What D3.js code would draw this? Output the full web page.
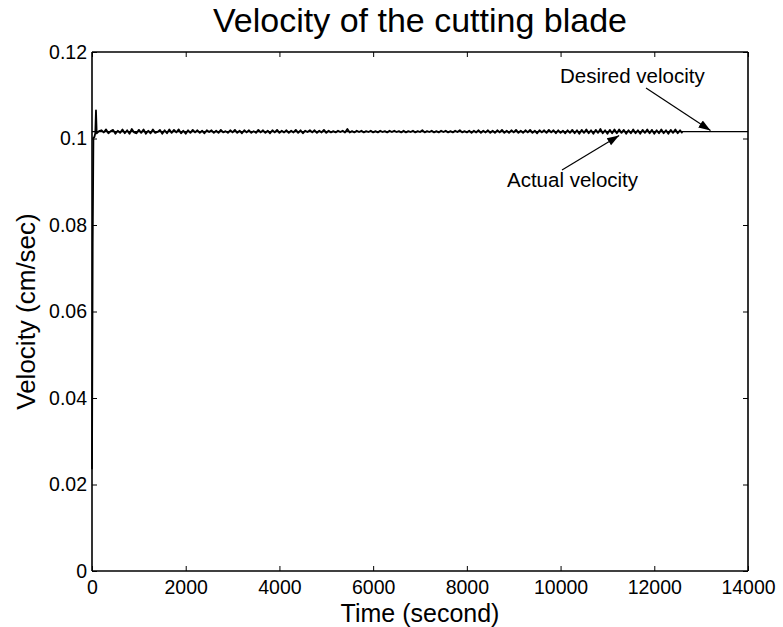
<!DOCTYPE html>
<html><head><meta charset="utf-8">
<script src="https://cdn.jsdelivr.net/npm/d3@7"></script>
<style>body{margin:0;background:#fff;}svg{display:block;font-family:"Liberation Sans",Arial,sans-serif;}</style>
</head><body>
<svg id="chart" width="783" height="627"></svg>
<script>
// Data
const xTicks = [0,2000,4000,6000,8000,10000,12000,14000];
const yTicks = [0,0.02,0.04,0.06,0.08,0.1,0.12];
const desiredVelocity = 0.1016;
const desiredTime = [0, 14000];
// transient of the actual velocity
const startTime = [0, 15, 30, 50, 70, 85, 100, 150];
const startVel = [0.0235, 0.076, 0.1002, 0.1003, 0.1012, 0.1065, 0.1012, 0.1017];
// steady-state actual velocity, sampled every 50 s from 200 to 12600
const steadyVel = [
0.1019,0.1014,0.1021,0.1012,0.1017,0.1020,0.1011,0.1018,0.1013,0.1021,
0.1012,0.1019,0.1011,0.1022,0.1014,0.1012,0.1020,0.1013,0.1021,0.1011,
0.1018,0.1012,0.1021,0.1013,0.1015,0.1020,0.1011,0.1019,0.1012,0.1021,
0.1013,0.1020,0.1014,0.1021,0.1012,0.1018,0.1011,0.1019,0.1013,0.1020,
0.1014,0.1019,0.1013,0.1018,0.1012,0.1019,0.1015,0.1019,0.1013,0.1018,
0.1013,0.1020,0.1014,0.1017,0.1013,0.1019,0.1014,0.1020,0.1013,0.1018,
0.1012,0.1019,0.1014,0.1019,0.1013,0.1017,0.1013,0.1020,0.1014,0.1019,
0.1013,0.1018,0.1012,0.1019,0.1014,0.1020,0.1013,0.1018,0.1014,0.1019,
0.1013,0.1018,0.1014,0.1020,0.1013,0.1019,0.1012,0.1018,0.1015,0.1019,
0.1014,0.1019,0.1013,0.1018,0.1014,0.1020,0.1013,0.1018,0.1014,0.1017,
0.1014,0.1018,0.1015,0.1018,0.1014,0.1022,0.1014,0.1017,0.1014,0.1018,
0.1015,0.1018,0.1014,0.1017,0.1015,0.1018,0.1014,0.1017,0.1014,0.1018,
0.1015,0.1017,0.1014,0.1018,0.1015,0.1018,0.1015,0.1017,0.1014,0.1018,
0.1014,0.1017,0.1015,0.1018,0.1014,0.1017,0.1015,0.1019,0.1014,0.1017,
0.1015,0.1018,0.1014,0.1017,0.1014,0.1018,0.1015,0.1018,0.1014,0.1017,
0.1014,0.1018,0.1015,0.1019,0.1014,0.1017,0.1014,0.1018,0.1013,0.1018,
0.1014,0.1019,0.1013,0.1018,0.1014,0.1019,0.1013,0.1018,0.1013,0.1019,
0.1014,0.1020,0.1013,0.1018,0.1013,0.1019,0.1014,0.1020,0.1013,0.1018,
0.1013,0.1019,0.1014,0.1020,0.1013,0.1018,0.1012,0.1019,0.1014,0.1019,
0.1013,0.1020,0.1014,0.1019,0.1012,0.1019,0.1013,0.1018,0.1012,0.1019,
0.1013,0.1020,0.1012,0.1019,0.1011,0.1020,0.1013,0.1021,0.1012,0.1019,
0.1011,0.1020,0.1013,0.1022,0.1012,0.1019,0.1011,0.1020,0.1012,0.1021,
0.1012,0.1021,0.1013,0.1020,0.1011,0.1019,0.1012,0.1021,0.1012,0.1019,
0.1011,0.1020,0.1013,0.1021,0.1012,0.1020,0.1011,0.1019,0.1012,0.1021,
0.1012,0.1019,0.1011,0.1020,0.1013,0.1021,0.1012,0.1019,0.1012
];
const steadyStart = 200, steadyStep = 50;

const title = "Velocity of the cutting blade";
const xLabel = "Time (second)";
const yLabel = "Velocity (cm/sec)";

const svg = d3.select("#chart");
const m = {left:92, right:748, top:52, bottom:571};
const x = d3.scaleLinear().domain([0,14000]).range([m.left, m.right]);
const y = d3.scaleLinear().domain([0,0.12]).range([m.bottom, m.top]);

const actual = startTime.map((t,i)=>[t,startVel[i]])
  .concat(steadyVel.map((v,i)=>[steadyStart+i*steadyStep, v]));

const line = d3.line().x(d=>x(d[0])).y(d=>y(d[1]));

// desired
svg.append("path").datum(desiredTime.map(t=>[t,desiredVelocity]))
  .attr("d",line).attr("fill","none").attr("stroke","#000").attr("stroke-width",1.2);
// actual
svg.append("path").datum(actual)
  .attr("d",line).attr("fill","none").attr("stroke","#000").attr("stroke-width",1.8)
  .attr("stroke-linejoin","round");

// axes
const tl = 5;
const gB = svg.append("g").attr("transform",`translate(0,${m.bottom})`)
  .call(d3.axisBottom(x).tickValues(xTicks).tickSize(-tl).tickPadding(9).tickFormat(d3.format("d")));
const gT = svg.append("g").attr("transform",`translate(0,${m.top})`)
  .call(d3.axisTop(x).tickValues(xTicks).tickSize(-tl).tickFormat(""));
const gL = svg.append("g").attr("transform",`translate(${m.left},0)`)
  .call(d3.axisLeft(y).tickValues(yTicks).tickSize(-tl).tickPadding(5).tickFormat(d=>d===0?"0":String(+d.toFixed(2))));
const gR = svg.append("g").attr("transform",`translate(${m.right},0)`)
  .call(d3.axisRight(y).tickValues(yTicks).tickSize(-tl).tickFormat(""));
[gB,gT,gL,gR].forEach(g=>{
  g.select(".domain").attr("stroke","#000").attr("stroke-width",1.6);
  g.selectAll(".tick line").attr("stroke","#000").attr("stroke-width",1);
  g.selectAll("text").attr("fill","#000").style("font-size","19.5px").style("font-family",'"Liberation Sans",Arial,sans-serif');
});
gB.selectAll(".domain").attr("d",`M${m.left},0H${m.right}`);
gT.selectAll(".domain").attr("d",`M${m.left},0H${m.right}`);
gL.selectAll(".domain").attr("d",`M0,${m.top}V${m.bottom}`);
gR.selectAll(".domain").attr("d",`M0,${m.top}V${m.bottom}`);

// labels
svg.append("text").attr("x",(m.left+m.right)/2).attr("y",32).attr("text-anchor","middle")
  .style("font-size","34px").text(title);
svg.append("text").attr("x",(m.left+m.right)/2).attr("y",622).attr("text-anchor","middle")
  .style("font-size","25px").text(xLabel);
svg.append("text").attr("transform",`translate(35,${(m.top+m.bottom)/2}) rotate(-90)`).attr("text-anchor","middle")
  .style("font-size","26px").text(yLabel);

// annotations
const defs = svg.append("defs");
defs.append("marker").attr("id","arr").attr("viewBox","0 0 10 10").attr("refX",10).attr("refY",5)
  .attr("markerWidth",12).attr("markerHeight",12).attr("markerUnits","userSpaceOnUse").attr("orient","auto")
  .append("path").attr("d","M0,1.5L10,5L0,8.5Z").attr("fill","#000");
svg.append("text").attr("x",560).attr("y",83).style("font-size","20.5px").text("Desired velocity");
svg.append("line").attr("x1",646).attr("y1",88).attr("x2",x(13200)).attr("y2",y(desiredVelocity)-1)
  .attr("stroke","#000").attr("stroke-width",1.2).attr("marker-end","url(#arr)");
svg.append("text").attr("x",507).attr("y",187).style("font-size","20.5px").text("Actual velocity");
svg.append("line").attr("x1",562).attr("y1",170).attr("x2",x(11250)).attr("y2",y(desiredVelocity)+4)
  .attr("stroke","#000").attr("stroke-width",1.2).attr("marker-end","url(#arr)");
</script>
</body></html>
